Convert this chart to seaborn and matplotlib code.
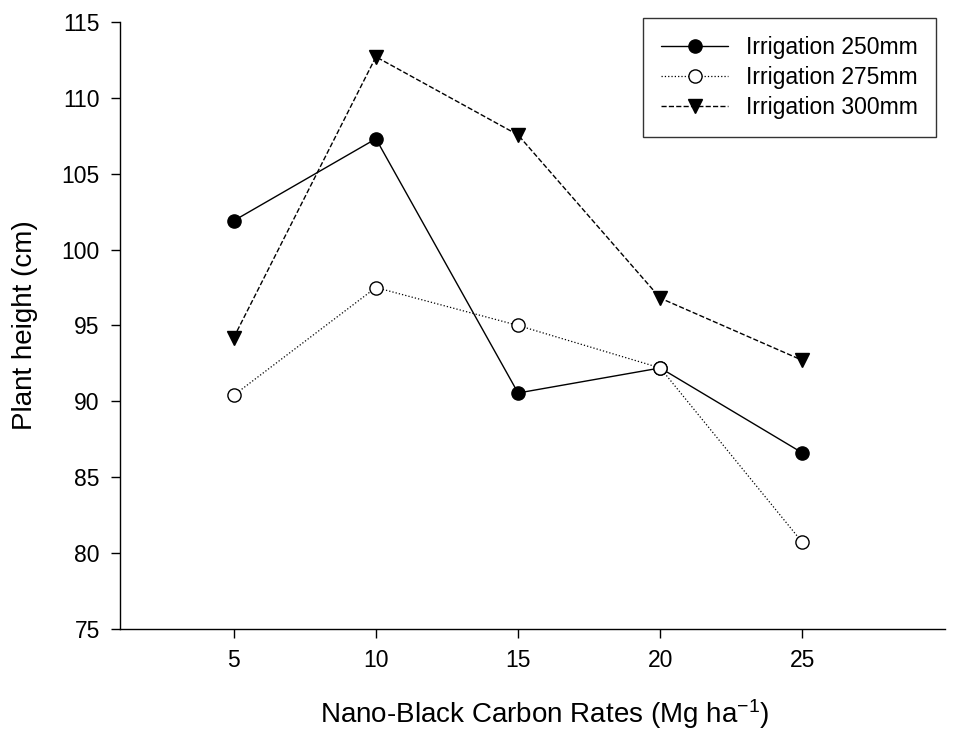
import matplotlib
matplotlib.use("Agg")
import matplotlib.pyplot as plt
import seaborn as sns
import pandas as pd

rates = [5, 10, 15, 20, 25]
irr_250 = [101.9, 107.3, 90.55, 92.2, 86.6]
irr_275 = [90.4, 97.5, 95.0, 92.2, 80.7]
irr_300 = [94.2, 112.7, 107.55, 96.8, 92.7]
labels = ["Irrigation 250mm", "Irrigation 275mm", "Irrigation 300mm"]

sns.set_theme(style="ticks")
plt.rcParams['font.family'] = ['Liberation Sans', 'DejaVu Sans']
plt.rcParams['xtick.labelsize'] = 16.5
plt.rcParams['ytick.labelsize'] = 16.5
plt.rcParams['mathtext.default'] = 'regular'
plt.rcParams['text.color'] = 'black'
plt.rcParams['axes.labelcolor'] = 'black'

df = pd.DataFrame({
    "rate": rates * 3,
    "height": irr_250 + irr_275 + irr_300,
    "series": [labels[0]] * 5 + [labels[1]] * 5 + [labels[2]] * 5,
})

fig = plt.figure(figsize=(9.6, 7.35), dpi=100)
ax = fig.add_axes([0.125, 0.1442, 0.859, 0.826])

styles = [
    dict(marker="o", mfc="black", ls="-", dashes=None, lw=1.0),
    dict(marker="o", mfc="white", ls=":", dashes=(1, 3), lw=0.9),
    dict(marker="v", mfc="black", ls="--", dashes=(5, 3), lw=1.0),
]
for lab, st in zip(labels, styles):
    sub = df[df["series"] == lab]
    kw = {}
    if st["dashes"] is not None:
        kw["dashes"] = st["dashes"]
    sns.lineplot(data=sub, x="rate", y="height", ax=ax, color="black",
                 marker=st["marker"], markersize=9.5, markerfacecolor=st["mfc"],
                 markeredgecolor="black", markeredgewidth=1.0,
                 linestyle=st["ls"], linewidth=st["lw"], label=lab, **kw)

ax.set_xlim(1, 30)
ax.set_ylim(75, 115)
ax.set_xticks(rates)
ax.set_yticks(range(75, 116, 5))
ax.tick_params(axis="both", direction="out", length=6.5, width=1, labelsize=16.5,
               colors="black", pad=8)
for s in ["top", "right"]:
    ax.spines[s].set_visible(False)
for s in ["left", "bottom"]:
    ax.spines[s].set_color("black")
    ax.spines[s].set_linewidth(1)

ax.set_xlabel("Nano-Black Carbon Rates (Mg ha$^{-1}$)", fontsize=20, color="black")
ax.set_ylabel("Plant height (cm)", fontsize=20, color="black")
ax.xaxis.set_label_coords(0.515, -0.113)
ax.yaxis.set_label_coords(-0.099, 0.5)

leg = ax.legend(loc="upper right", bbox_to_anchor=(0.99, 1.007), fontsize=16.5,
                frameon=True, fancybox=False, edgecolor="black",
                handlelength=2.9, borderpad=0.8, labelspacing=0.3,
                handletextpad=0.8, borderaxespad=0.0)
leg.get_frame().set_linewidth(1.0)
for t in leg.get_texts():
    t.set_color("black")

fig.savefig("out.png", dpi=100)
